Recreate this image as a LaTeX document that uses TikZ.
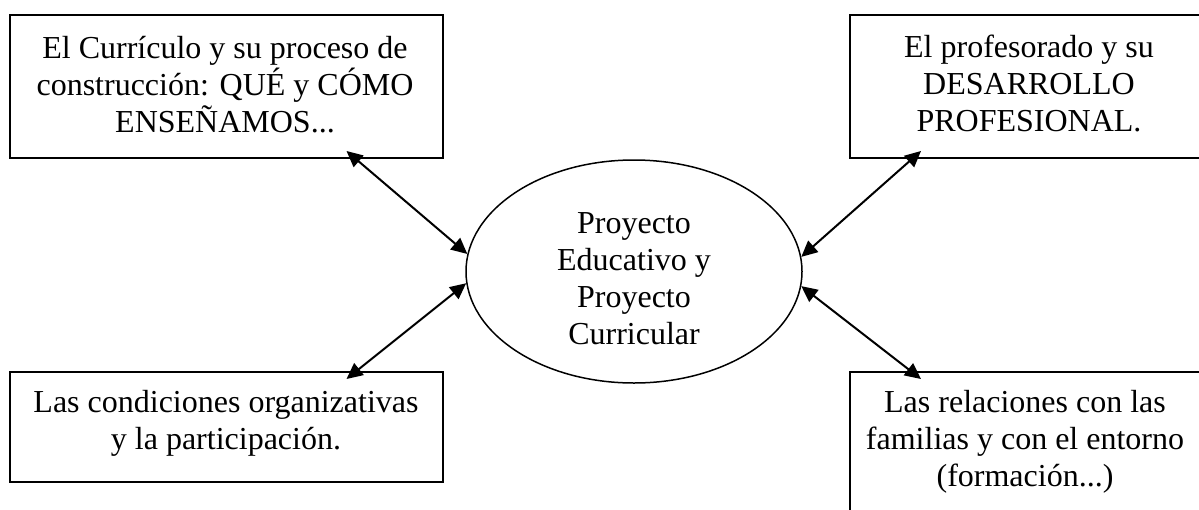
\documentclass[tikz,border=0pt]{standalone}
\usepackage{fontspec}
\setmainfont{Liberation Serif}
\usetikzlibrary{shapes.geometric,arrows.meta}

\begin{document}
\begin{tikzpicture}[x=0.5pt,y=-0.5pt,
  caja/.style={draw,line width=1pt,inner sep=0pt},
  texto/.style={align=center,font=\fontsize{16}{18.5}\selectfont,inner sep=0pt},
  flecha/.style={{Triangle[length=8pt,width=7.5pt]}-{Triangle[length=8pt,width=7.5pt]},line width=1pt}]
\useasboundingbox (0,0) rectangle (1199,509);
\clip (0,0) rectangle (1199,509);
% cajas
\node[caja,minimum width=216.5pt,minimum height=71.5pt] (curr) at (226.5,86.5) {};
\node[texto] (curr-t) at (225,85) {El Currículo y su proceso de\\construcción: QUÉ y CÓMO\\ENSEÑAMOS...};
\node[caja,minimum width=179pt,minimum height=71.5pt] (prof) at (1029,86.5) {};
\node[texto] (prof-t) at (1029,83) {El profesorado y su\\DESARROLLO\\PROFESIONAL.};
\node[caja,minimum width=216.5pt,minimum height=55pt] (cond) at (226.5,427) {};
\node[texto] (cond-t) at (226,423.5) {Las condiciones organizativas\\y la participación.};
\node[caja,minimum width=180pt,minimum height=75pt] (rel) at (1030,447) {};
\node[texto] (rel-t) at (1025,442) {Las relaciones con las\\familias y con el entorno\\(formación...)};
% centro
\node[draw,ellipse,line width=0.75pt,inner sep=0pt,minimum width=168pt,minimum height=111.5pt] (pec) at (634,271.5) {};
\node[texto] (pec-t) at (634,279) {Proyecto\\Educativo y\\Proyecto\\Curricular};
% flechas
\draw[flecha] ([shift={(120,-8)}]curr.south) -- (pec.174.3);
\draw[flecha] ([shift={(120,8)}]cond.north) -- (pec.184.6);
\draw[flecha] ([shift={(-108,-8)}]prof.south) -- (pec.5);
\draw[flecha] ([shift={(-109,8)}]rel.north) -- (pec.355.4);
\end{tikzpicture}
\end{document}
